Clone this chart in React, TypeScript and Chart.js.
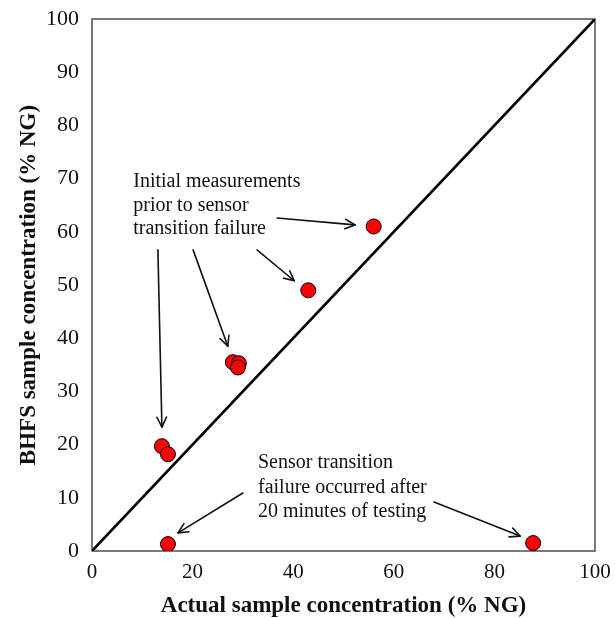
import React, { useEffect, useRef } from "react";
import { Chart, registerables } from "chart.js";

Chart.register(...registerables);

// Data
const actualConcentration = [56, 43, 28, 29.2, 29, 13.9, 15.1, 15.1, 87.7];
const bhfsConcentration = [61, 49, 35.5, 35.3, 34.5, 19.7, 18.2, 1.3, 1.5];
const diagonalX = [0, 100];
const diagonalY = [0, 100];
const xTickLabels = ["0", "20", "40", "60", "80", "100"];
const yTickLabels = ["0", "10", "20", "30", "40", "50", "60", "70", "80", "90", "100"];

const upperNote = ["Initial measurements", "prior to sensor", "transition failure"];
const lowerNote = ["Sensor transition", "failure occurred after", "20 minutes of testing"];

// Annotation anchors (data coordinates)
const upperNoteAnchor = { x: 8.2, y: 68.4 };
const lowerNoteAnchor = { x: 33.0, y: 15.6 };
const arrows = [
  { from: [36.8, 62.6], to: [52.3, 61.3] },
  { from: [32.8, 56.6], to: [40.2, 50.8] },
  { from: [20.1, 56.6], to: [27.0, 38.5] },
  { from: [13.1, 56.6], to: [13.9, 23.3] },
  { from: [30.0, 10.9], to: [17.1, 3.4] },
  { from: [68.0, 9.2], to: [85.1, 2.8] },
];

const SERIF = "'Liberation Serif', 'Times New Roman', serif";

const annotationPlugin = {
  id: "annotations",
  beforeDatasetsDraw(chart: any) {
    const { ctx, chartArea } = chart;
    ctx.save();
    ctx.strokeStyle = "#4d4d4d";
    ctx.lineWidth = 1.5;
    ctx.strokeRect(chartArea.left, chartArea.top, chartArea.right - chartArea.left, chartArea.bottom - chartArea.top);
    ctx.restore();
  },
  afterDatasetsDraw(chart: any) {
    const { ctx } = chart;
    const xs = chart.scales.x;
    const ys = chart.scales.y;
    ctx.save();
    ctx.strokeStyle = "#111";
    ctx.lineWidth = 1.6;
    ctx.lineCap = "round";
    ctx.lineJoin = "round";
    for (const a of arrows) {
      const x1 = xs.getPixelForValue(a.from[0]);
      const y1 = ys.getPixelForValue(a.from[1]);
      const x2 = xs.getPixelForValue(a.to[0]);
      const y2 = ys.getPixelForValue(a.to[1]);
      ctx.beginPath();
      ctx.moveTo(x1, y1);
      ctx.lineTo(x2, y2);
      ctx.stroke();
      const ang = Math.atan2(y2 - y1, x2 - x1);
      const len = 11;
      const spread = 0.45;
      ctx.beginPath();
      ctx.moveTo(x2 - len * Math.cos(ang - spread), y2 - len * Math.sin(ang - spread));
      ctx.lineTo(x2, y2);
      ctx.lineTo(x2 - len * Math.cos(ang + spread), y2 - len * Math.sin(ang + spread));
      ctx.stroke();
    }
    ctx.fillStyle = "#111";
    ctx.font = `20px ${SERIF}`;
    ctx.textAlign = "left";
    ctx.textBaseline = "alphabetic";
    const ux = xs.getPixelForValue(upperNoteAnchor.x);
    const uy = ys.getPixelForValue(upperNoteAnchor.y);
    upperNote.forEach((t, i) => ctx.fillText(t, ux, uy + i * 23.5));
    const lx = xs.getPixelForValue(lowerNoteAnchor.x);
    const ly = ys.getPixelForValue(lowerNoteAnchor.y);
    lowerNote.forEach((t, i) => ctx.fillText(t, lx, ly + i * 24.5));
    ctx.restore();
  },
};

export default function App() {
  const ref = useRef<HTMLCanvasElement | null>(null);
  useEffect(() => {
    if (!ref.current) return;
    const chart = new Chart(ref.current, {
      type: "scatter",
      data: {
        datasets: [
          {
            label: "BHFS",
            data: actualConcentration.map((x, i) => ({ x, y: bhfsConcentration[i] })),
            backgroundColor: "#ff0000",
            borderColor: "#000",
            borderWidth: 1,
            pointRadius: 7.5,
            order: 0,
          },
          {
            type: "line",
            label: "1:1",
            data: diagonalX.map((x, i) => ({ x, y: diagonalY[i] })),
            borderColor: "#000",
            borderWidth: 2.6,
            pointRadius: 0,
            fill: false,
            order: 1,
          } as any,
        ],
      },
      options: {
        animation: false,
        responsive: false,
        events: [],
        layout: { padding: { top: 19, right: 20, left: 0, bottom: 0 } },
        plugins: { legend: { display: false }, tooltip: { enabled: false } },
        scales: {
          x: {
            type: "linear",
            min: 0,
            max: 100,
            grid: { display: false, drawTicks: false },
            border: { display: false },
            ticks: {
              stepSize: 20,
              padding: 9,
              color: "#111",
              font: { family: SERIF, size: 21 },
              callback: (v: any) => xTickLabels[Math.round(Number(v) / 20)] ?? "",
            },
            title: {
              display: true,
              text: "Actual sample concentration (% NG)",
              color: "#111",
              font: { family: SERIF, size: 23, weight: "bold", lineHeight: 1 },
              padding: { top: 0, bottom: 0 },
            },
            afterFit: (s: any) => {
              s.height = 67;
              s.paddingLeft = 0;
              s.paddingRight = 0;
            },
          },
          y: {
            type: "linear",
            min: 0,
            max: 100,
            grid: { display: false, drawTicks: false },
            border: { display: false },
            ticks: {
              stepSize: 10,
              padding: 13,
              color: "#111",
              font: { family: SERIF, size: 22 },
              callback: (v: any) => yTickLabels[Math.round(Number(v) / 10)] ?? "",
            },
            title: {
              display: true,
              text: "BHFS sample concentration (% NG)",
              color: "#111",
              font: { family: SERIF, size: 23, weight: "bold" },
              padding: { top: 15, bottom: 0 },
            },
            afterFit: (s: any) => {
              s.width = 92;
              s.paddingTop = 0;
              s.paddingBottom = 0;
            },
          },
        },
      },
      plugins: [annotationPlugin],
    });
    return () => chart.destroy();
  }, []);
  return (
    <div style={{ position: "absolute", left: 0, top: 0, width: 615, height: 618, background: "#fff" }}>
      <canvas ref={ref} width={615} height={618} style={{ width: 615, height: 618 }} />
    </div>
  );
}
